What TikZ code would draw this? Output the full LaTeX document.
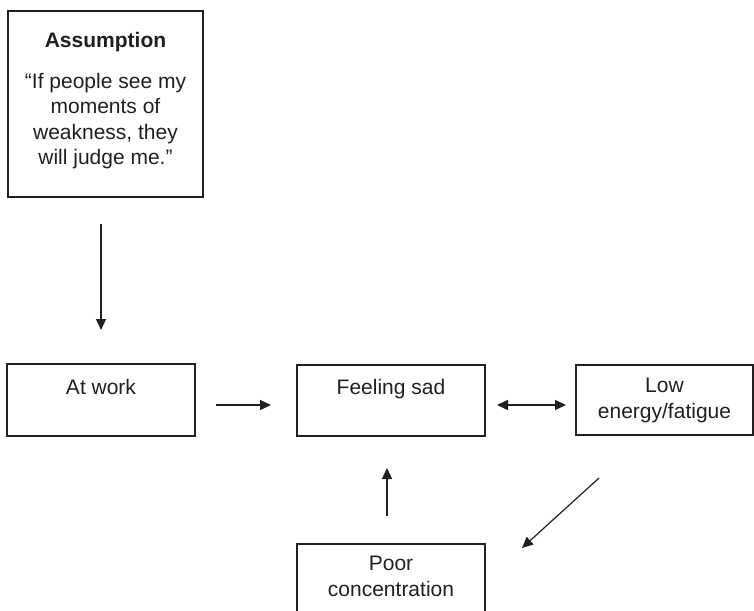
\documentclass[tikz,border=0pt]{standalone}
\usepackage{fontspec}
\setmainfont{Liberation Sans}
\usetikzlibrary{arrows.meta}
\definecolor{ink}{RGB}{35,31,32}
\begin{document}
\begin{tikzpicture}[x=1pt,y=-1pt,
  box/.style={draw=ink,line width=1.2pt,minimum width=#1,inner sep=0pt},
  txt/.style={text=ink,font=\fontsize{21}{25.5}\selectfont,align=center,inner sep=0pt,anchor=north},
  tip/.tip={Triangle[length=11pt,width=10pt]},
  link/.style={draw=ink,line width=1.2pt,-tip},
  both/.style={draw=ink,line width=1.2pt,tip-tip}]
\useasboundingbox (0,0) rectangle (754,610);
\fill[white] (0,0) rectangle (754,610);

% boxes
\node[box=195pt,minimum height=186pt] (assume) at (105.5,104) {};
\node[box=188pt,minimum height=72pt] (work) at (101,400) {};
\node[box=188pt,minimum height=71pt] (sad) at (391,400.5) {};
\node[box=177pt,minimum height=70pt] (low) at (664.5,400) {};
\node[box=188pt,minimum height=72pt] (poor) at (391,580) {};

% texts
\node[txt,font=\fontsize{21}{25.5}\selectfont\bfseries] (assumeT) at (105.5,32) {Assumption};
\node[txt] (assumeQ) at (105.5,73) {“If people see my\\moments of\\weakness, they\\will judge me.”};
\node[txt] (workT) at (101,379) {At work};
\node[txt] (sadT) at (391,379) {Feeling sad};
\node[txt] (lowT) at (664.5,378) {Low\\energy/fatigue};
\node[txt] (poorT) at (391,556) {Poor\\concentration};

% arrow end points
\coordinate (a1) at (101,224);
\coordinate (a2) at (101,330);
\coordinate (b1) at (216,405);
\coordinate (b2) at (271,405);
\coordinate (c1) at (497,405);
\coordinate (c2) at (566,405);
\coordinate (d1) at (387,516);
\coordinate (d2) at (387,468);
\coordinate (e1) at (599,478);
\coordinate (e2) at (522,548);

\draw[link] (a1) -- (a2);
\draw[link] (b1) -- (b2);
\draw[both] (c1) -- (c2);
\draw[link] (e1) -- (e2);
\draw[link] (d1) -- (d2);
\end{tikzpicture}
\end{document}
